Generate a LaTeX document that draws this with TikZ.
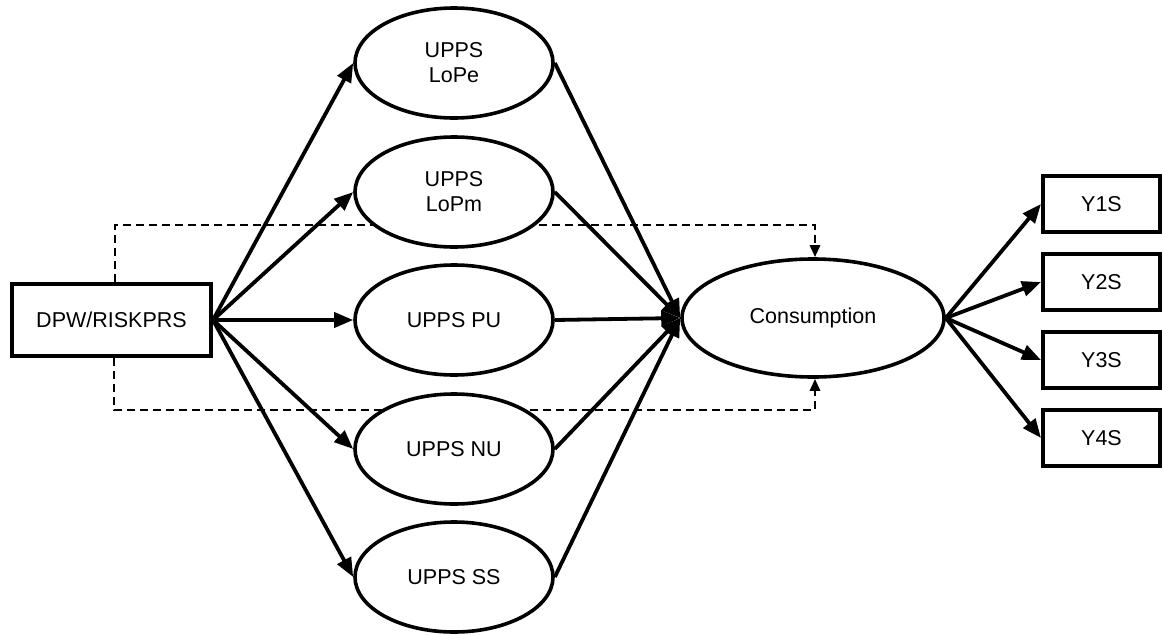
\documentclass[tikz,border=0pt]{standalone}
\usepackage{fontspec}
\setmainfont{Liberation Sans}
\usetikzlibrary{shapes.geometric,arrows.meta,backgrounds}
\begin{document}
\begin{tikzpicture}[x=1pt,y=-1pt,
  every node/.style={font=\fontsize{21.5}{25}\selectfont},
  boxnode/.style={draw,line width=4pt,fill=white,inner sep=0pt,align=center},
  latent/.style={draw,ellipse,line width=3.6pt,fill=white,inner sep=0pt,align=center,minimum width=198pt,minimum height=110pt},
  path/.style={line width=3.8pt,-{Triangle[length=19pt,width=15pt]}},
  dpath/.style={line width=2.8pt,dash pattern=on 8pt off 5pt,-{Triangle[length=12pt,width=10pt]}}]
\useasboundingbox (0,0) rectangle (1163,635);
\node[boxnode,minimum width=199pt,minimum height=72pt] (dpw) at (111.5,320) {DPW/RISKPRS};
\node[latent] (lope) at (454,63) {UPPS\\LoPe};
\node[latent] (lopm) at (454,192) {UPPS\\LoPm};
\node[latent] (pu) at (454,320) {UPPS PU};
\node[latent] (nu) at (454,449) {UPPS NU};
\node[latent] (ss) at (454,577) {UPPS SS};
\node[latent,minimum width=262pt,minimum height=118pt] (cons) at (813,318) {Consumption};
\node[boxnode,minimum width=117pt,minimum height=56pt] (y1) at (1101.5,204) {Y1S};
\node[boxnode,minimum width=117pt,minimum height=56pt] (y2) at (1101.5,282) {Y2S};
\node[boxnode,minimum width=117pt,minimum height=56pt] (y3) at (1101.5,360) {Y3S};
\node[boxnode,minimum width=117pt,minimum height=56pt] (y4) at (1101.5,438) {Y4S};
\coordinate (tl) at (115,225);
\coordinate (tr) at (815,225);
\coordinate (bl) at (114,410);
\coordinate (br) at (815,410);
\begin{scope}[on background layer]
\draw[dpath] (dpw.north -| tl) -- (tl) -- (tr) -- (tr |- cons.north);
\draw[dpath] (dpw.south -| bl) -- (bl) -- (br) -- (br |- cons.south);
\end{scope}
\foreach \n in {lope,lopm,pu,nu,ss}{
  \draw[path] (dpw.east) -- (\n.west);
  \draw[path] (\n.east) -- (cons.west);
}
\foreach \n in {y1,y2,y3,y4}{
  \draw[path] (cons.east) -- (\n.west);
}
\end{tikzpicture}
\end{document}
